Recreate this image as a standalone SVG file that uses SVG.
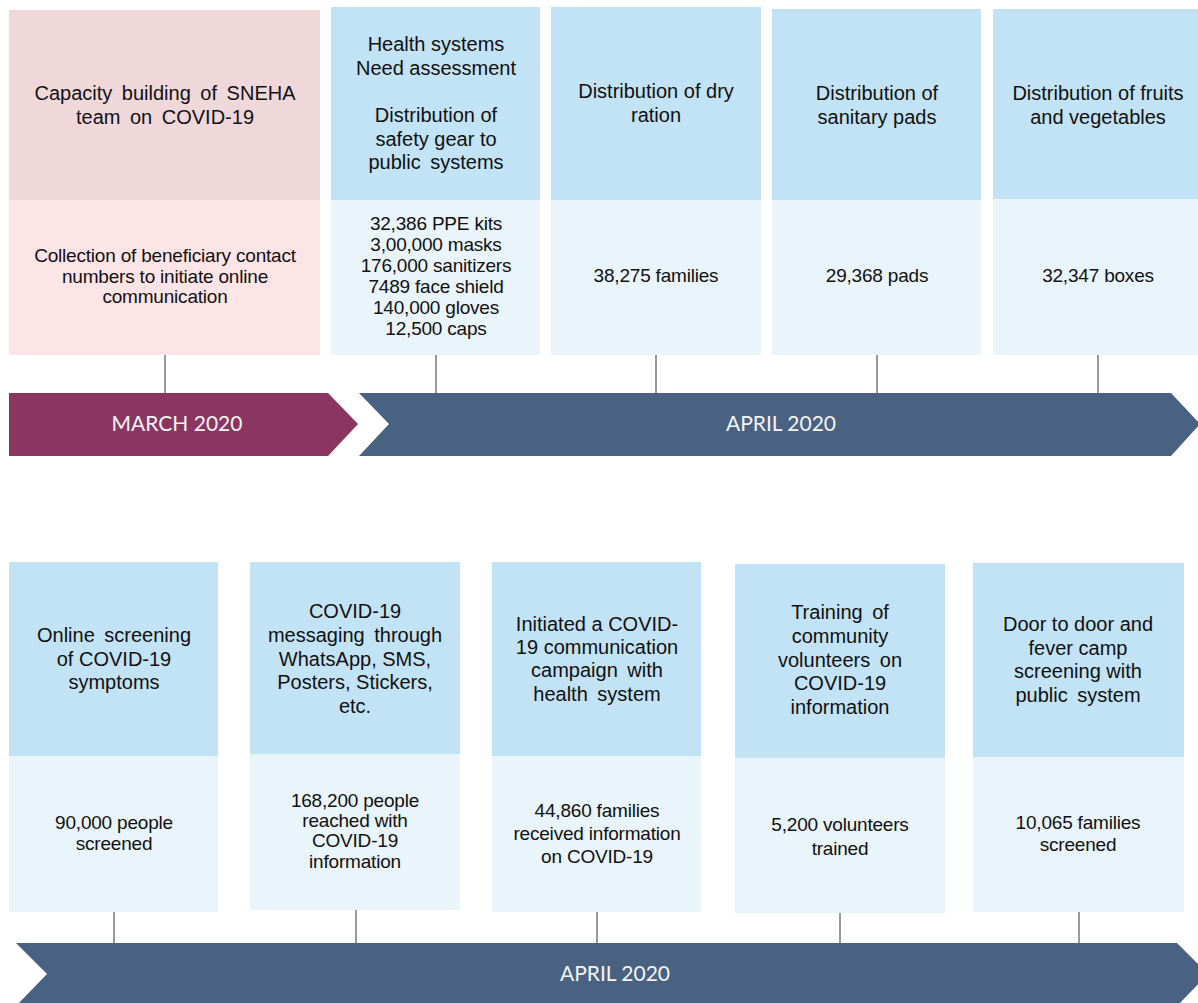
<svg xmlns="http://www.w3.org/2000/svg" width="1198" height="1003" viewBox="0 0 1198 1003">
<style>
.pt{fill:#f0d7da}.pb{fill:#fde4e7}.bt{fill:#c2e2f5}.bb{fill:#e9f4fb}
.h{font-family:"Liberation Sans",Arial,sans-serif;font-size:20px;fill:#111;text-anchor:middle}
.w{word-spacing:4px}
.v{font-family:"Liberation Sans",Arial,sans-serif;font-size:19px;fill:#111;text-anchor:middle;letter-spacing:-0.2px}
.bn{font-family:Lato,"Open Sans",sans-serif;font-size:21px;fill:#f4f4f4;text-anchor:middle}
.c{stroke:#808080;stroke-width:1.6}
</style>
<rect width="1198" height="1003" fill="#fff"/>
<g id="connectors">
<line class="c" x1="165" y1="355" x2="165" y2="393"/>
<line class="c" x1="436" y1="355" x2="436" y2="393"/>
<line class="c" x1="656" y1="355" x2="656" y2="393"/>
<line class="c" x1="877" y1="355" x2="877" y2="393"/>
<line class="c" x1="1098" y1="355" x2="1098" y2="393"/>
<line class="c" x1="114" y1="912" x2="114" y2="943"/>
<line class="c" x1="356" y1="910" x2="356" y2="943"/>
<line class="c" x1="597" y1="912" x2="597" y2="943"/>
<line class="c" x1="840" y1="913" x2="840" y2="943"/>
<line class="c" x1="1079" y1="912" x2="1079" y2="943"/>
</g>
<g id="banner-march">
<polygon points="9,393 328,393 358,424 328,456 9,456" fill="#8c3560"/>
<text class="bn" x="177" y="431">MARCH 2020</text>
</g>
<g id="banner-april-1">
<polygon points="359,393 1171,393 1200,424 1171,456 359,456 389,424" fill="#4a6282"/>
<text class="bn" x="781" y="431">APRIL 2020</text>
</g>
<g id="banner-april-2">
<polygon points="16,943 1177,943 1208,974 1177,1006 16,1006 47,974" fill="#4a6282"/>
<text class="bn" x="615" y="981">APRIL 2020</text>
</g>
<g id="card-capacity">
<rect class="pt" x="9" y="10" width="311" height="190"/>
<rect class="pb" x="9" y="200" width="311" height="155"/>
<text class="h w" x="165" y="100">Capacity building of SNEHA</text>
<text class="h w" x="165" y="124">team on COVID-19</text>
<text class="v" x="165" y="262">Collection of beneficiary contact</text>
<text class="v" x="165" y="283">numbers to initiate online</text>
<text class="v" x="165" y="303">communication</text>
</g>
<g id="card-health">
<rect class="bt" x="331" y="7" width="209" height="193"/>
<rect class="bb" x="331" y="200" width="209" height="155"/>
<text class="h" x="436" y="51">Health systems</text>
<text class="h" x="436" y="75">Need assessment</text>
<text class="h" x="436" y="122">Distribution of</text>
<text class="h" x="436" y="146">safety gear to</text>
<text class="h w" x="436" y="169">public systems</text>
<text class="v" x="436" y="230">32,386 PPE kits</text>
<text class="v" x="436" y="251">3,00,000 masks</text>
<text class="v" x="436" y="272">176,000 sanitizers</text>
<text class="v" x="436" y="293">7489 face shield</text>
<text class="v" x="436" y="314">140,000 gloves</text>
<text class="v" x="436" y="335">12,500 caps</text>
</g>
<g id="card-ration">
<rect class="bt" x="551" y="7" width="210" height="193"/>
<rect class="bb" x="551" y="200" width="210" height="155"/>
<text class="h" x="656" y="98">Distribution of dry</text>
<text class="h" x="656" y="122">ration</text>
<text class="v" x="656" y="282">38,275 families</text>
</g>
<g id="card-pads">
<rect class="bt" x="772" y="9" width="209" height="191"/>
<rect class="bb" x="772" y="200" width="209" height="155"/>
<text class="h" x="877" y="100">Distribution of</text>
<text class="h" x="877" y="124">sanitary pads</text>
<text class="v" x="877" y="282">29,368 pads</text>
</g>
<g id="card-fruits">
<rect class="bt" x="993" y="9" width="210" height="190"/>
<rect class="bb" x="993" y="199" width="210" height="156"/>
<text class="h" x="1098" y="100">Distribution of fruits</text>
<text class="h" x="1098" y="124">and vegetables</text>
<text class="v" x="1098" y="282">32,347 boxes</text>
</g>
<g id="card-online">
<rect class="bt" x="9" y="562" width="209" height="194"/>
<rect class="bb" x="9" y="756" width="209" height="156"/>
<text class="h w" x="114" y="642">Online screening</text>
<text class="h" x="114" y="666">of COVID-19</text>
<text class="h" x="114" y="689">symptoms</text>
<text class="v" x="114" y="829">90,000 people</text>
<text class="v" x="114" y="850">screened</text>
</g>
<g id="card-messaging">
<rect class="bt" x="250" y="562" width="210" height="192"/>
<rect class="bb" x="250" y="754" width="210" height="156"/>
<text class="h" x="355" y="618">COVID-19</text>
<text class="h w" x="355" y="642">messaging through</text>
<text class="h" x="355" y="666">WhatsApp, SMS,</text>
<text class="h" x="355" y="689">Posters, Stickers,</text>
<text class="h" x="355" y="713">etc.</text>
<text class="v" x="355" y="807">168,200 people</text>
<text class="v" x="355" y="827">reached with</text>
<text class="v" x="355" y="847">COVID-19</text>
<text class="v" x="355" y="868">information</text>
</g>
<g id="card-campaign">
<rect class="bt" x="492" y="562" width="209" height="194"/>
<rect class="bb" x="492" y="756" width="209" height="156"/>
<text class="h" x="597" y="631">Initiated a COVID-</text>
<text class="h" x="597" y="654">19 communication</text>
<text class="h w" x="597" y="677">campaign with</text>
<text class="h w" x="597" y="701">health system</text>
<text class="v" x="597" y="817">44,860 families</text>
<text class="v" x="597" y="840">received information</text>
<text class="v" x="597" y="863">on COVID-19</text>
</g>
<g id="card-training">
<rect class="bt" x="735" y="564" width="210" height="194"/>
<rect class="bb" x="735" y="758" width="210" height="155"/>
<text class="h w" x="840" y="619">Training of</text>
<text class="h" x="840" y="643">community</text>
<text class="h w" x="840" y="667">volunteers on</text>
<text class="h" x="840" y="690">COVID-19</text>
<text class="h" x="840" y="714">information</text>
<text class="v" x="840" y="831">5,200 volunteers</text>
<text class="v" x="840" y="855">trained</text>
</g>
<g id="card-door">
<rect class="bt" x="973" y="563" width="211" height="194"/>
<rect class="bb" x="973" y="757" width="211" height="155"/>
<text class="h" x="1078" y="631">Door to door and</text>
<text class="h" x="1078" y="655">fever camp</text>
<text class="h" x="1078" y="678">screening with</text>
<text class="h w" x="1078" y="702">public system</text>
<text class="v" x="1078" y="829">10,065 families</text>
<text class="v" x="1078" y="851">screened</text>
</g>
</svg>
